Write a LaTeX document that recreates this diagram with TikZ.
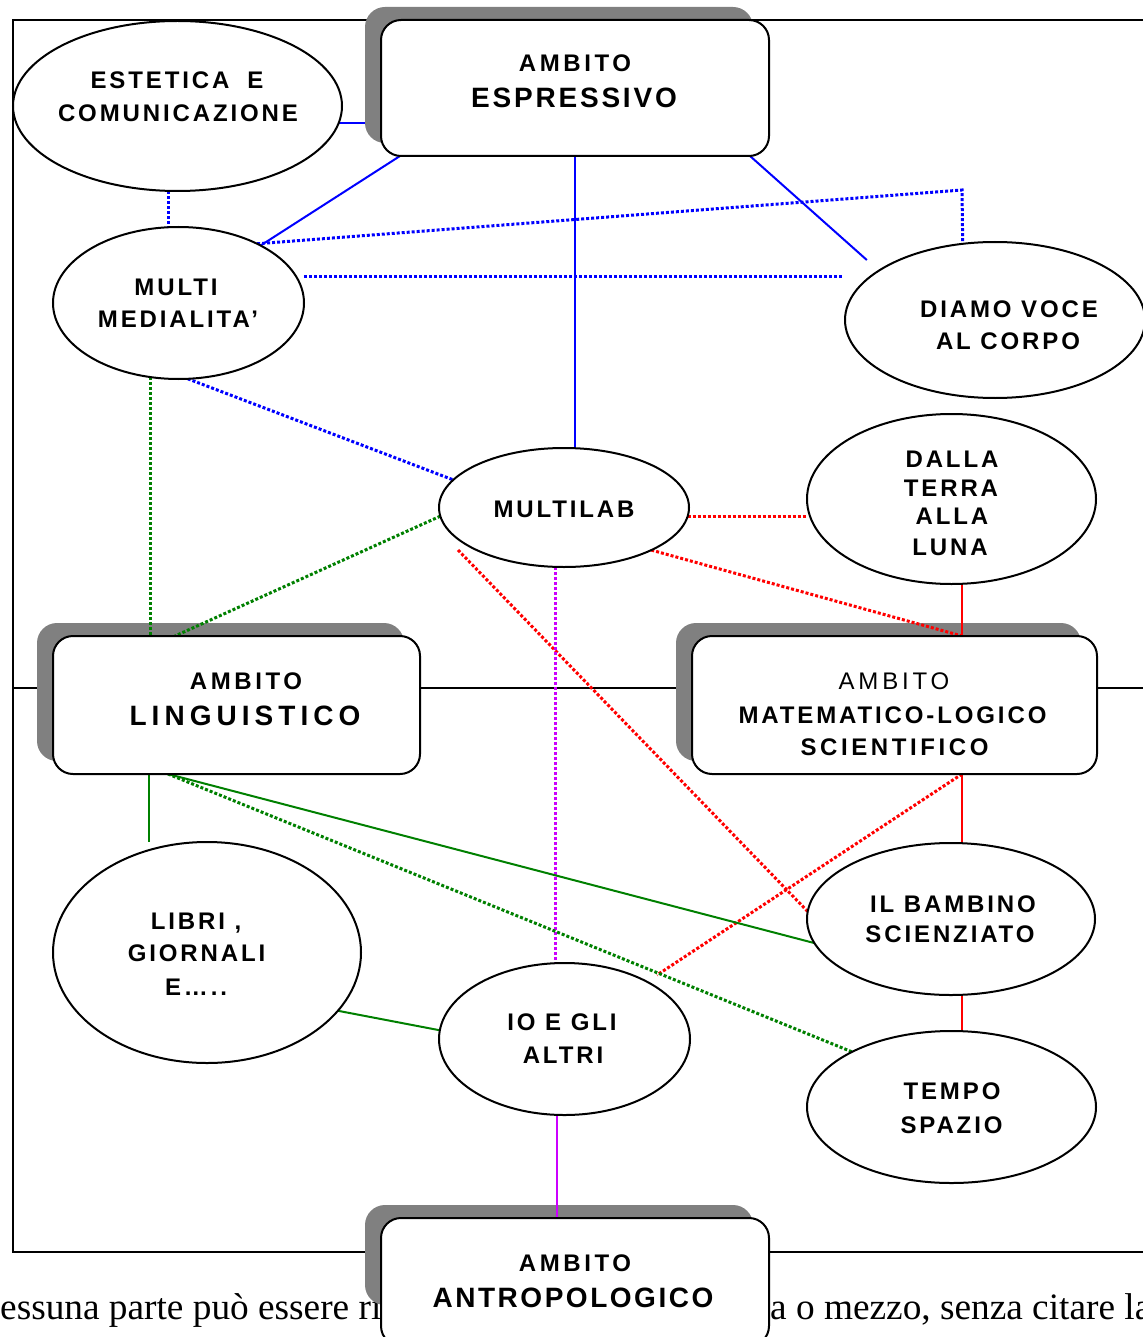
\documentclass[tikz,border=0pt]{standalone}
\usepackage{fontspec}
\setmainfont{Liberation Sans}
\newfontfamily\lsans[LetterSpace=12]{Liberation Sans}
\newfontfamily\serifff{Liberation Serif}
\usetikzlibrary{shapes.geometric,calc}
\definecolor{colblue}{RGB}{0,0,255}
\definecolor{colred}{RGB}{255,0,0}
\definecolor{colgreen}{RGB}{0,128,0}
\definecolor{colmag}{RGB}{204,0,255}
\definecolor{shgray}{RGB}{128,128,128}
\pgfdeclarelayer{bg}
\pgfdeclarelayer{sh}
\pgfdeclarelayer{conn}
\pgfsetlayers{bg,sh,conn,main}
\begin{document}
\begin{tikzpicture}[x=1pt,y=-1pt,
  oval/.style={ellipse, draw=black, line width=2pt, fill=white, inner sep=0pt, outer sep=0pt},
  ambox/.style={rectangle, rounded corners=20pt, draw=black, line width=2pt, fill=white, inner sep=0pt, outer sep=0pt, minimum width=#1},
  shbox/.style={rectangle, rounded corners=20pt, fill=shgray, inner sep=0pt, outer sep=0pt, minimum width=#1},
  lbl/.style={anchor=base, inner sep=0pt, font=\lsans\bfseries\fontsize{24}{24}\selectfont},
  lblbig/.style={anchor=base, inner sep=0pt, font=\lsans\bfseries\fontsize{28}{28}\selectfont},
  solidc/.style={line width=2pt},
  dotc/.style={line width=3pt, dash pattern=on 3pt off 2pt},
  bluec/.style={draw=colblue},
  redc/.style={draw=colred},
  greenc/.style={draw=colgreen},
  magc/.style={draw=colmag},
]
\useasboundingbox (0,0) rectangle (1142,1337);

% ---- shadows
\begin{pgfonlayer}{sh}
\node[shbox=388pt, minimum height=136pt] (esps) at (559,75) {};
\node[shbox=367pt, minimum height=138pt] (lings) at (220.5,692) {};
\node[shbox=405pt, minimum height=138pt] (mats) at (878.5,692) {};
\node[shbox=388pt, minimum height=100pt] (antros) at (559,1255) {};
\end{pgfonlayer}

% ---- boxes
\node[ambox=388pt, minimum height=136pt] (esp) at (575,88) {};
\node[ambox=367pt, minimum height=138pt] (ling) at (236.5,705) {};
\node[ambox=405pt, minimum height=138pt] (mat) at (894.5,705) {};
\node[ambox=388pt, minimum height=128pt] (antro) at (575,1282) {};

% ---- ellipses
\node[oval, minimum width=329pt, minimum height=170pt] (est) at (177.5,106) {};
\node[oval, minimum width=251pt, minimum height=152pt] (multi) at (178.5,303) {};
\node[oval, minimum width=300pt, minimum height=156pt] (dia) at (995,320) {};
\node[oval, minimum width=250pt, minimum height=119pt] (lab) at (564,507.5) {};
\node[oval, minimum width=289pt, minimum height=170pt] (dalla) at (951.5,499) {};
\node[oval, minimum width=308pt, minimum height=221pt] (libri) at (207,952.5) {};
\node[oval, minimum width=251pt, minimum height=152pt] (io) at (564.5,1039) {};
\node[oval, minimum width=288pt, minimum height=152pt] (bam) at (951,919) {};
\node[oval, minimum width=289pt, minimum height=152pt] (tempo) at (951.5,1107) {};

% ---- texts
\node[lbl, font=\lsans\bfseries\fontsize{24}{24}\selectfont\addfontfeature{LetterSpace=15}] (e1) at (575,71.6) {AMBITO};
\node[lblbig, font=\lsans\bfseries\fontsize{28}{28}\selectfont\addfontfeature{LetterSpace=10}] (e2) at (574,108) {ESPRESSIVO};
\node[lbl] (s1) at (177,88.6) {ESTETICA\hspace{18pt}E};
\node[lbl] (s2) at (178,121.6) {COMUNICAZIONE};
\node[lbl] (m1) at (176,295.6) {MULTI};
\node[lbl] (m2) at (178,327.6) {MEDIALITA’};
\node[lbl] (d1) at (1009,317.6) {DIAMO VOCE};
\node[lbl] (d2) at (1008,349.6) {AL CORPO};
\node[lbl] (l1) at (564,517.6) {MULTILAB};
\node[lbl] (t1) at (952,467.6) {DALLA};
\node[lbl] (t2) at (951,496.1) {TERRA};
\node[lbl] (t3) at (952,524.6) {ALLA};
\node[lbl] (t4) at (950,555.1) {LUNA};
\node[lbl, font=\lsans\bfseries\fontsize{24}{24}\selectfont\addfontfeature{LetterSpace=15}] (g1) at (246,689.1) {AMBITO};
\node[lblbig, font=\lsans\bfseries\fontsize{28}{28}\selectfont\addfontfeature{LetterSpace=18}] (g2) at (245,725.5) {LINGUISTICO};
\node[lbl, font=\lsans\fontsize{24}{24}\selectfont\addfontfeature{LetterSpace=16}] (k1) at (894,689.1) {AMBITO};
\node[lbl] (k2) at (892.5,723.1) {MATEMATICO-LOGICO};
\node[lbl, font=\lsans\bfseries\fontsize{24}{24}\selectfont\addfontfeature{LetterSpace=15}] (k3) at (894.5,755.1) {SCIENTIFICO};
\node[lbl] (b1) at (196,929.6) {LIBRI ,};
\node[lbl] (b2) at (196.5,961.1) {GIORNALI};
\node[lbl] (b3) at (196,995.1) {E…..};
\node[lbl] (i1) at (562,1030.6) {IO E GLI};
\node[lbl] (i2) at (563,1063.6) {ALTRI};
\node[lbl] (n1) at (953,912.1) {IL BAMBINO};
\node[lbl] (n2) at (950,942.1) {SCIENZIATO};
\node[lbl] (p1) at (952,1099.1) {TEMPO};
\node[lbl] (p2) at (951.5,1133.1) {SPAZIO};
\node[lbl, font=\lsans\bfseries\fontsize{24}{24}\selectfont\addfontfeature{LetterSpace=15}] (a1) at (575,1271.6) {AMBITO};
\node[lblbig, font=\lsans\bfseries\fontsize{28}{28}\selectfont\addfontfeature{LetterSpace=9}] (a2) at (573,1307) {ANTROPOLOGICO};

% ---- helper coordinates
\coordinate (c1) at (962,190);
\coordinate (c2) at (843,277);
\coordinate (mt) at ($(mat.north west)+(270,0)$);
\coordinate (mb) at ($(mat.south west)+(270,0)$);
\coordinate (lv) at ($(ling.south west)+(96,0)$);
\coordinate (lb) at ($(ling.south west)+(115,0)$);
\coordinate (lt) at ($(ling.north west)+(122,0)$);
\coordinate (esl) at ($(esp.south west)+(19,0)$);
\coordinate (esr) at ($(esp.south east)+(-19,0)$);
\coordinate (labr) at ($(lab.center)+(-106,42.5)$);
\coordinate (ior) at ($(io.center)+(92.5,-64)$);

\begin{pgfonlayer}{bg}
% bottom text
\node[anchor=base west, inner sep=0pt, font=\serifff\fontsize{37.3}{38}\selectfont] (bt1) at (0,1319) {essuna parte può essere ri};
\node[anchor=base west, inner sep=0pt, font=\serifff\fontsize{37.3}{38}\selectfont] (bt2) at (770,1319) {a o mezzo, senza citare la};
% frame
\draw[line width=1.5pt] (13,20) rectangle (1170,1252);
\draw[line width=1.5pt] (13,688) -- (1170,688);
\end{pgfonlayer}

\begin{pgfonlayer}{conn}
% blue
\draw[bluec, solidc] (est.-6) -- (est.-6 -| esps.west);
\draw[bluec, dotc] (est.-96) -- (est.-96 |- multi.north);
\draw[bluec, solidc] (esl) -- (multi.35);
\draw[bluec, dotc] (multi.37) -- (c1) -- (dia.113);
\draw[bluec, dotc] (multi.east |- c2) -- (c2);
\draw[bluec, solidc, shorten >=16pt] (esr) -- (dia.157);
\draw[bluec, solidc] (esp.south) -- (esp.south |- lab.north);
\draw[bluec, dotc] (multi.-83) -- (lab.166);

% red
\draw[redc, dotc] (lab.-4) -- (lab.-4 -| dalla.west);
\draw[redc, dotc] (lab.-26) -- (mt);
\draw[redc, solidc] (mt |- dalla.south) -- (mt);
\draw[redc, dotc] (labr) -- (bam.177);
\draw[redc, dotc] (mb) -- (ior);
\draw[redc, solidc] (mb) -- (mb |- bam.north);
\draw[redc, solidc] (bam.-82) -- (bam.-82 |- tempo.north);

% magenta
\draw[magc, dotc] (lab.-98) -- (lab.-98 |- io.north);
\draw[magc, solidc] (io.-96) -- (io.-96 |- antro.north);

% green
\draw[greenc, dotc] (multi.-111) -- (multi.-111 |- lt);
\draw[greenc, dotc] (lab.184) -- (lt);
\draw[greenc, solidc] (lv) -- (lv |- libri.north);
\draw[greenc, solidc] (lb) -- (bam.190);
\draw[greenc, dotc] (lb) -- (tempo.151);
\draw[greenc, solidc] (libri.-24) -- (io.176);
\end{pgfonlayer}
\end{tikzpicture}
\end{document}
